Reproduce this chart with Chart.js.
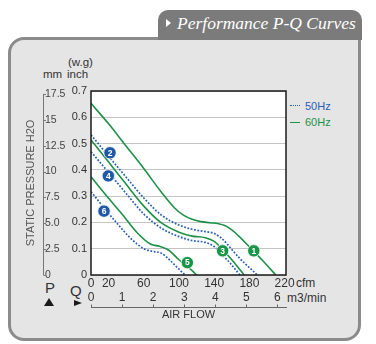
<!DOCTYPE html>
<html><head><meta charset="utf-8">
<script src="https://cdn.jsdelivr.net/npm/chart.js@4.4.1/dist/chart.umd.min.js"></script>
<style>
html,body{margin:0;padding:0;background:#fff;}
body{width:376px;height:344px;position:relative;overflow:hidden;font-family:"Liberation Sans",Arial,sans-serif;color:#333;}
#panel{position:absolute;left:8px;top:37px;width:347px;height:298px;border:3px solid #8b8b8b;border-radius:16px 0 16px 16px;background:#e5e5e5;}
#tab{position:absolute;left:158px;top:10px;width:204px;height:30px;background:#7b7b7b;border-radius:10px 10px 0 0;}
#tri{position:absolute;left:166px;top:19px;width:0;height:0;border-left:5px solid #fff;border-top:4px solid transparent;border-bottom:4px solid transparent;}
#title{position:absolute;left:177px;top:12.6px;line-height:20px;font-family:"Liberation Serif","Times New Roman",serif;font-style:italic;font-size:17.5px;color:#fff;white-space:nowrap;}
.t{position:absolute;white-space:nowrap;line-height:14px;}
canvas{position:absolute;left:0;top:0;}
.lg{position:absolute;left:290px;width:10px;height:0;}
</style>
</head><body>
<div id="panel"></div>
<div id="tab"></div>
<div id="tri"></div>
<div id="title">Performance P-Q Curves</div>
<div class="t" style="left:68px;top:55px;font-size:11.5px;">(w.g)</div>
<div class="t" style="left:43px;top:67px;font-size:11.5px;">mm</div>
<div class="t" style="left:67px;top:67px;font-size:11.5px;">inch</div>
<div class="t" style="left:296px;top:276px;font-size:12px;">cfm</div>
<div class="t" style="left:287px;top:290.5px;font-size:12px;">m3/min</div>
<div class="t" style="left:45px;top:279px;font-size:15px;line-height:17px;">P</div>
<div class="t" style="left:70px;top:282px;font-size:15px;line-height:17px;">Q</div>
<div style="position:absolute;left:44px;top:298px;width:0;height:0;border-bottom:8px solid #1a1a1a;border-left:5.5px solid transparent;border-right:5.5px solid transparent;"></div>
<div style="position:absolute;left:74px;top:300px;width:0;height:0;border-left:8px solid #1a1a1a;border-top:3.5px solid transparent;border-bottom:3.5px solid transparent;"></div>
<div class="lg" style="top:105px;border-top:1.5px dotted #2a5fb5;"></div>
<div class="t" style="left:305px;top:98.5px;font-size:11px;color:#2a5fb5;">50Hz</div>
<div class="lg" style="top:121.5px;border-top:1.5px solid #1d9148;"></div>
<div class="t" style="left:305px;top:115px;font-size:11px;color:#1d9148;">60Hz</div>
<canvas id="c" width="376" height="344"></canvas>
<script>
// ---- data (cfm vs inch H2O) ----
const cfmTicks = [0, 20, 60, 100, 140, 180, 220];
const m3Ticks = [0, 1, 2, 3, 4, 5, 6];
const inchTicks = [0, 0.1, 0.2, 0.3, 0.4, 0.5, 0.6, 0.7];
const mmTicks = [0, 2.5, 5, 7.5, 10, 12.5, 15, 17.5];
const mmLabels = ['0', '2.5', '5.0', '7.5', '10', '12.5', '15', '17.5'];

const curve1Cfm  = [0, 20, 40, 60, 80, 95, 105, 115, 125, 135, 145, 152, 160, 168, 180, 195, 210];
const curve1Inch = [0.653, 0.575, 0.49, 0.405, 0.315, 0.255, 0.228, 0.212, 0.203, 0.199, 0.195, 0.188, 0.172, 0.148, 0.107, 0.055, 0];
const curve2Cfm  = [0, 20, 40, 60, 80, 100, 115, 130, 140, 150, 160, 170, 180, 189];
const curve2Inch = [0.533, 0.452, 0.372, 0.293, 0.228, 0.19, 0.174, 0.165, 0.158, 0.135, 0.097, 0.06, 0.028, 0];
const curve3Cfm  = [0, 20, 40, 60, 80, 100, 115, 130, 140, 150, 160, 174];
const curve3Inch = [0.514, 0.43, 0.345, 0.262, 0.198, 0.163, 0.148, 0.142, 0.128, 0.095, 0.058, 0];
const curve4Cfm  = [0, 20, 40, 60, 80, 100, 115, 130, 140, 150, 160, 169];
const curve4Inch = [0.469, 0.39, 0.31, 0.232, 0.178, 0.146, 0.131, 0.124, 0.108, 0.074, 0.038, 0];
const curve5Cfm  = [0, 20, 35, 53, 68, 78, 88, 100, 110, 120];
const curve5Inch = [0.374, 0.292, 0.233, 0.159, 0.117, 0.109, 0.095, 0.058, 0.032, 0];
const curve6Cfm  = [0, 15, 30, 45, 60, 70, 80, 90, 100, 107];
const curve6Inch = [0.317, 0.255, 0.195, 0.14, 0.1, 0.09, 0.083, 0.055, 0.022, 0];

const markerIds  = ['1', '2', '3', '4', '5', '6'];
const markerCfm  = [185, 21.6, 149.6, 19.7, 109.5, 14.8];
const markerInch = [0.092, 0.465, 0.092, 0.377, 0.047, 0.243];
const markerFreq = ['60Hz', '50Hz', '60Hz', '50Hz', '60Hz', '50Hz'];

const CFM_MAX = 221.6, INCH_MAX = 0.7;
const CFM_PER_M3 = 35.31, MM_PER_INCH = 25.4;

const GREEN = '#1d9148', BLUE = '#2a5fb5';
const pts = (xs, ys) => xs.map((x, i) => ({x: x, y: ys[i]}));
const curve = (xs, ys, hz) => ({
  data: pts(xs, ys), borderColor: hz === 50 ? BLUE : GREEN,
  borderWidth: hz === 50 ? 1.7 : 1.6, borderDash: hz === 50 ? [1.8, 1.6] : [],
  pointRadius: 0, cubicInterpolationMode: 'monotone', fill: false
});

const decor = {
  id: 'decor',
  beforeDraw(chart) {
    const {ctx, chartArea: a} = chart;
    ctx.save(); ctx.fillStyle = '#fff';
    ctx.fillRect(a.left, a.top, a.right - a.left, a.bottom - a.top);
    ctx.restore();
  },
  afterDraw(chart) {
    const {ctx, chartArea: a, scales} = chart;
    ctx.save();
    // plot frame
    ctx.strokeStyle = '#1a1a1a'; ctx.lineWidth = 1.5;
    ctx.strokeRect(a.left, a.top, a.right - a.left, a.bottom - a.top);
    // mm axis line
    const ym = scales.y2, xl = ym.right + 0.5;
    ctx.strokeStyle = '#777'; ctx.lineWidth = 1;
    ctx.beginPath();
    ctx.moveTo(xl, ym.getPixelForValue(mmTicks[mmTicks.length - 1]));
    ctx.lineTo(xl, ym.getPixelForValue(0));
    mmTicks.forEach(v => { const y = Math.round(ym.getPixelForValue(v)) + 0.5; ctx.moveTo(xl, y); ctx.lineTo(xl + 2.5, y); });
    ctx.stroke();
    // m3/min axis line
    const xm = scales.x2, yl = xm.top + 17.5;
    ctx.strokeStyle = '#666';
    ctx.beginPath();
    ctx.moveTo(a.left, yl); ctx.lineTo(a.right + 1, yl);
    m3Ticks.forEach(v => { const x = Math.round(xm.getPixelForValue(v)) + 0.5; ctx.moveTo(x, yl); ctx.lineTo(x, yl - 3); });
    ctx.stroke();
    // marker numbers
    const meta = chart.getDatasetMeta(0);
    ctx.fillStyle = '#fff'; ctx.font = 'bold 8.5px "Liberation Sans", Arial, sans-serif';
    ctx.textAlign = 'center'; ctx.textBaseline = 'middle';
    meta.data.forEach((p, i) => ctx.fillText(markerIds[i], p.x, p.y + 0.5));
    ctx.restore();
  }
};

new Chart(document.getElementById('c'), {
  type: 'line',
  data: {
    datasets: [
      {data: pts(markerCfm, markerInch), showLine: false, pointRadius: 6.2, pointHoverRadius: 6.2,
       pointBackgroundColor: markerFreq.map(f => f === '50Hz' ? '#1f58a6' : '#1a9448'),
       pointBorderColor: '#fff', pointBorderWidth: 0.8},
      curve(curve1Cfm, curve1Inch, 60),
      curve(curve2Cfm, curve2Inch, 50),
      curve(curve3Cfm, curve3Inch, 60),
      curve(curve4Cfm, curve4Inch, 50),
      curve(curve5Cfm, curve5Inch, 60),
      curve(curve6Cfm, curve6Inch, 50)
    ]
  },
  options: {
    responsive: false, animation: false, devicePixelRatio: 1,
    layout: {padding: {left: 22, top: 91, right: 90, bottom: 22}},
    plugins: {legend: {display: false}, tooltip: {enabled: false}},
    scales: {
      x: {type: 'linear', position: 'bottom', weight: 0, min: 0, max: CFM_MAX,
          afterBuildTicks: s => { s.ticks = cfmTicks.map(v => ({value: v})); },
          afterFit: s => { s.height = 15; },
          grid: {display: false, drawTicks: false}, border: {display: false},
          ticks: {padding: 1, color: '#333', font: {size: 12, family: '"Liberation Sans", Arial'}, maxRotation: 0, autoSkip: false}},
      x2: {type: 'linear', position: 'bottom', weight: 1, min: 0, max: CFM_MAX / CFM_PER_M3,
          afterBuildTicks: s => { s.ticks = m3Ticks.map(v => ({value: v})); },
          afterFit: s => { s.height = 32; },
          grid: {display: false, drawTicks: false}, border: {display: false},
          ticks: {padding: 0, color: '#333', font: {size: 12, family: '"Liberation Sans", Arial'}, maxRotation: 0, autoSkip: false},
          title: {display: true, text: 'AIR FLOW', color: '#333', padding: 0, font: {size: 11, family: '"Liberation Sans", Arial'}}},
      y: {type: 'linear', position: 'left', weight: 0, min: 0, max: INCH_MAX,
          afterBuildTicks: s => { s.ticks = inchTicks.map(v => ({value: v})); },
          afterFit: s => { s.width = 48; },
          grid: {color: '#c4c4c4', lineWidth: 1, drawTicks: false}, border: {display: false},
          ticks: {padding: 4, color: '#333', font: {size: 11, family: '"Liberation Sans", Arial'},
                  callback: v => v === 0 ? '0' : v.toFixed(1)}},
      y2: {type: 'linear', position: 'left', weight: 1, min: 0, max: INCH_MAX * MM_PER_INCH,
          afterBuildTicks: s => { s.ticks = mmTicks.map(v => ({value: v})); },
          afterFit: s => { s.width = 21; },
          grid: {display: false, drawTicks: false}, border: {display: false},
          ticks: {mirror: true, padding: 2, color: '#444', font: {size: 10.5, family: '"Liberation Sans", Arial'},
                  callback: (v, i) => mmLabels[i]},
          title: {display: true, text: 'STATIC PRESSURE H2O', color: '#555', padding: {top: 2, bottom: 0},
                  font: {size: 11, family: '"Liberation Sans", Arial'}}}
    }
  },
  plugins: [decor]
});
</script>
</body></html>
